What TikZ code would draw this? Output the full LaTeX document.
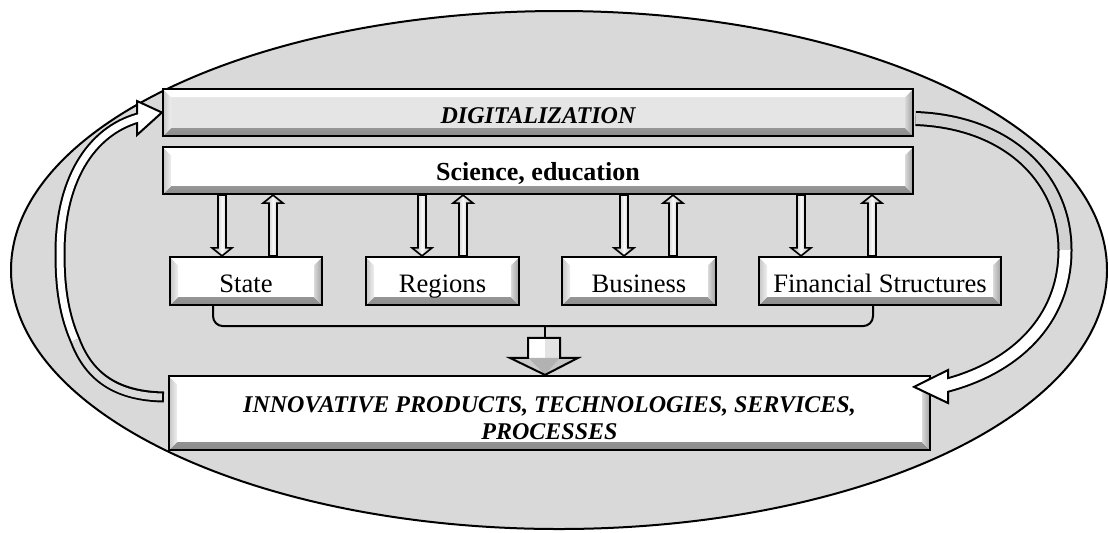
\documentclass[tikz,border=0pt]{standalone}
\usepackage{fontspec}
\setmainfont{Liberation Serif}
\usetikzlibrary{calc}
\def\bv{4pt}
\tikzset{
  bevelbox/.style={draw=black, line width=1.1pt, fill=white, inner sep=0pt, align=center,
    path picture={
      \shade[top color=gray!45, bottom color=gray!90]
        (path picture bounding box.south west) -- (path picture bounding box.south east)
        -- ([shift={(-\bv,\bv)}]path picture bounding box.south east)
        -- ([shift={(\bv,\bv)}]path picture bounding box.south west) -- cycle;
      \shade[left color=gray!30, right color=gray!75]
        (path picture bounding box.south east) -- (path picture bounding box.north east)
        -- ([shift={(-\bv,-\bv)}]path picture bounding box.north east)
        -- ([shift={(-\bv,\bv)}]path picture bounding box.south east) -- cycle;
      \shade[left color=gray!45, right color=gray!12]
        (path picture bounding box.south west) -- (path picture bounding box.north west)
        -- ([shift={(\bv,-\bv)}]path picture bounding box.north west)
        -- ([shift={(\bv,\bv)}]path picture bounding box.south west) -- cycle;
      \fill[white]
        (path picture bounding box.north west) -- (path picture bounding box.north east)
        -- ([shift={(-\bv,-\bv)}]path picture bounding box.north east)
        -- ([shift={(\bv,-\bv)}]path picture bounding box.north west) -- cycle;
    }},
  smallbox/.style={bevelbox, minimum height=24pt, text height=12pt, text depth=1pt,
    font={\fontsize{13.3}{16}\selectfont}},
  smallarr/.style={draw=black, line width=0.8pt, left color=gray!70, right color=gray!70, middle color=gray!5},
  conn/.style={draw=black, line width=1pt},
}
\newcommand\blkdown[2]{\shadedraw[smallarr] (#1) ++(-4,0) -- ++(8,0) -- ($(#2)+(4,-8)$) -- ++(6,0) -- (#2) -- ++(-10,-8) -- ++(6,0) -- cycle;}
\newcommand\blkup[2]{\shadedraw[smallarr] (#1) ++(-4,0) -- ++(8,0) -- ($(#2)+(4,8)$) -- ++(6,0) -- (#2) -- ++(-10,8) -- ++(6,0) -- cycle;}
\begin{document}
\begin{tikzpicture}[x=0.5pt,y=-0.5pt]
\useasboundingbox (0,0) rectangle (1108,532);
\draw[line width=1pt, fill=gray!30] (559,270) ellipse [x radius=548, y radius=259];

\node[bevelbox, fill=gray!20, minimum width=375pt, minimum height=23.5pt, text height=11pt, text depth=0.5pt] (dig) at (538,112.5)
  {\fontsize{12}{14}\selectfont\bfseries\itshape DIGITALIZATION};
\node[bevelbox, minimum width=375pt, minimum height=23.5pt, text height=10pt, text depth=0.5pt] (sci) at (538,170.5)
  {\fontsize{13}{15}\selectfont\bfseries Science, education};
\node[smallbox, minimum width=76pt] (state) at (246,281) {State};
\node[smallbox, minimum width=76.5pt] (regions) at (442.5,281) {Regions};
\node[smallbox, minimum width=77pt] (business) at (639,281) {Business};
\node[smallbox, minimum width=121pt] (financial) at (880,281) {Financial Structures};
\node[bevelbox, minimum width=380.5pt, minimum height=37pt] (innov) at (549.5,413) {};
\node[align=center, inner sep=0pt, font={\fontsize{12}{13.5}\selectfont\bfseries\itshape}] (innovtext) at (549.5,418)
  {INNOVATIVE PRODUCTS, TECHNOLOGIES, SERVICES,\\ PROCESSES};

% small vertical block arrows
\foreach \dx/\ux/\b in {222/273/state, 422/463/regions, 624/673/business, 801/872/financial} {
  \coordinate (d) at (\dx,0);
  \coordinate (u) at (\ux,0);
  \blkdown{sci.south -| d}{\b.north -| d}
  \blkup{\b.north -| u}{sci.south -| u}
}

% bracket
\coordinate (bm) at (545,325);
\draw[conn, rounded corners=5pt] ($(state.south)+(-33,0)$) -- ++(0,20) -- ($(financial.south)+(-7,20)$) -- ($(financial.south)+(-7,0)$);
\coordinate (bt) at (innov.north -| bm);
\draw[conn] (bm) -- ($(bt)+(0,-37)$);
% big down arrow
\fill[white] (bt) -- ++(-35,-17) -- ++(18,0) -- ++(0,-20) -- ++(32,0) -- ++(0,20) -- ++(18,0) -- cycle;
\fill[gray!22] ($(bt)+(0,-37)$) rectangle ($(bt)+(15,-17)$);
\fill[gray!40] (bt) -- ++(-35,-17) -- ++(18,0) -- cycle;
\fill[gray!45] (bt) -- ++(33,-17) -- ++(-18,0) -- cycle;
\fill[gray!60] (bt) -- ++(-17,-17) -- ++(32,0) -- cycle;
\draw[conn, line join=miter] (bt) -- ++(-35,-17) -- ++(18,0) -- ++(0,-20) -- ++(32,0) -- ++(0,20) -- ++(18,0) -- cycle;

% left curved arrow (innovative -> digitalization)
\coordinate (lt) at ($(innov.west)+(-4,-16)$);
\draw[line width=5.5pt] (lt) .. controls (120,396) and (90,380) .. (75,340) .. controls (62,310) and (60,280) .. (60,253) .. controls (60,175) and (95,128) .. (142,117);
\filldraw[fill=white, line width=1pt, line join=miter] (dig.west) -- (137,101) -- (137,135) -- cycle;
\draw[line width=3.5pt, gray!30, shorten <=1pt] (lt) .. controls (120,396) and (90,380) .. (75,340);
\draw[line width=3.5pt, white] (75,340) .. controls (62,310) and (60,280) .. (60,253) .. controls (60,175) and (95,128) .. (142,117);

% right curved arrow (digitalization -> innovative)
\coordinate (rs) at ($(dig.east)+(1.5,6)$);
\coordinate (rt) at ($(innov.north east)+(-17,12)$);
\draw[line width=7.5pt] (rs) .. controls (1010,122) and (1065,180) .. (1065,250) .. controls (1065,320) and (1015,368) .. (944,386);
\filldraw[fill=white, line width=1pt, line join=miter] (rt) -- (948,370) -- (948,403) -- cycle;
\draw[line width=5.5pt, gray!35] (rs) .. controls (1010,122) and (1065,180) .. (1065,250);
\draw[line width=5.5pt, white] (1065,250) .. controls (1065,320) and (1015,368) .. (944,386);
\end{tikzpicture}
\end{document}
